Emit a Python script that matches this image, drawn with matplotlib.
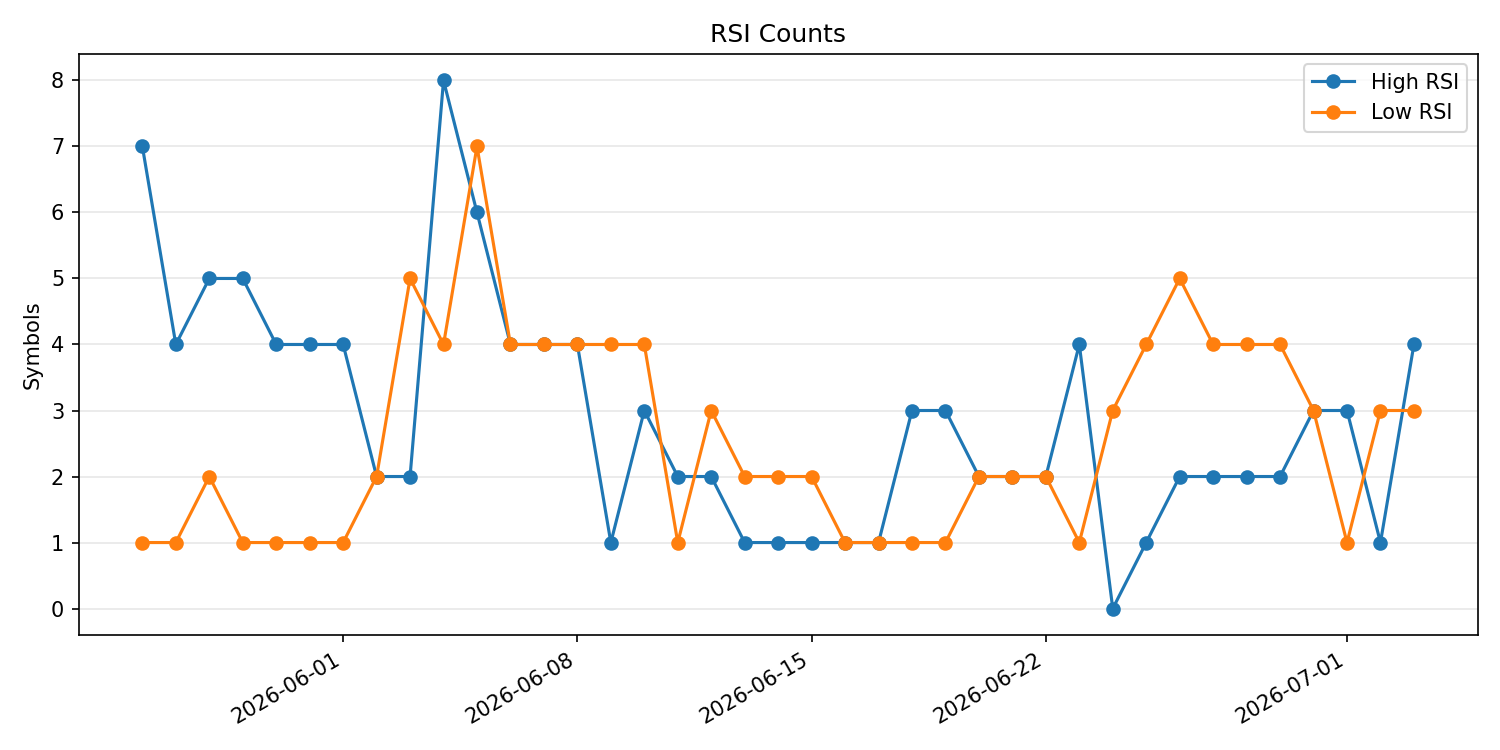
import pandas as pd
import matplotlib
matplotlib.use("Agg")
import matplotlib.pyplot as plt
import matplotlib.dates as mdates

dates = pd.date_range("2026-05-26", "2026-07-03", freq="D")

high_rsi = [7, 4, 5, 5, 4, 4, 4, 2, 2, 8, 6, 4, 4, 4, 1, 3, 2, 2, 1, 1,
            1, 1, 1, 3, 3, 2, 2, 2, 4, 0, 1, 2, 2, 2, 2, 3, 3, 1, 4]
low_rsi = [1, 1, 2, 1, 1, 1, 1, 2, 5, 4, 7, 4, 4, 4, 4, 4, 1, 3, 2, 2,
           2, 1, 1, 1, 1, 2, 2, 2, 1, 3, 4, 5, 4, 4, 4, 3, 1, 3, 3]

fig, ax = plt.subplots(figsize=(10, 5), dpi=150)
ax.plot(dates, high_rsi, marker="o", label="High RSI")
ax.plot(dates, low_rsi, marker="o", label="Low RSI")
ax.set_title("RSI Counts")
ax.set_ylabel("Symbols")
ax.grid(axis="y", alpha=0.3)
ax.legend(loc="upper right")
ax.xaxis.set_major_locator(mdates.DayLocator(bymonthday=[1, 8, 15, 22]))
ax.xaxis.set_major_formatter(mdates.DateFormatter("%Y-%m-%d"))
fig.autofmt_xdate()
fig.tight_layout()
fig.savefig("out.png")
